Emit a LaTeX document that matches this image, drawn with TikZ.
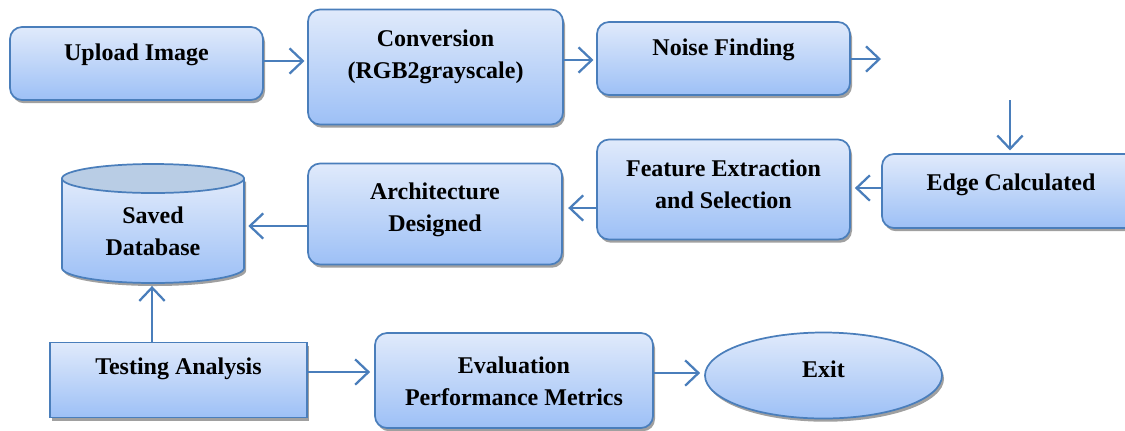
\documentclass[tikz,border=0pt]{standalone}
\usepackage{fontspec}
\setmainfont{Liberation Serif}
\usetikzlibrary{arrows.meta,shapes.geometric,shadows,calc}
\definecolor{bord}{HTML}{4A7EBB}
\definecolor{topc}{HTML}{E0EAFB}
\definecolor{botc}{HTML}{9DC0F6}
\definecolor{capc}{HTML}{B9CDE5}
\definecolor{shad}{HTML}{A0A0A0}
\tikzset{
  shade base/.style={draw=bord, line width=1.3pt, top color=topc, bottom color=botc,
    drop shadow={shadow xshift=1.5pt, shadow yshift=-2.4pt, fill=shad, opacity=1},
    inner sep=0pt},
  rbox/.style={shade base, rounded corners=9pt},
  sbox/.style={shade base},
  ebox/.style={shade base, ellipse},
  txt/.style={font=\fontsize{18}{24}\selectfont\bfseries, align=center, inner sep=0pt},
  arr/.style={draw=bord, line width=1.7pt, -{Straight Barb[length=10pt,width=19pt]}}
}
\begin{document}
\begin{tikzpicture}[x=0.75pt,y=-0.75pt]
\useasboundingbox (0,0) rectangle (1125,430);

% boxes (sizes in px * 0.75)
\node[rbox, minimum width=189.75pt, minimum height=54.75pt] (up) at (136.5,63.5) {};
\node[rbox, minimum width=191.25pt, minimum height=86.25pt] (conv) at (435.5,67) {};
\node[rbox, minimum width=189.75pt, minimum height=54.75pt] (noise) at (723.5,58.5) {};
\node[rbox, minimum width=193.5pt, minimum height=55.5pt] (edge) at (1011,191) {};
\node[rbox, minimum width=189.75pt, minimum height=75pt] (feat) at (723.5,189.5) {};
\node[rbox, minimum width=190.5pt, minimum height=75.75pt] (arch) at (435,214) {};
\node[sbox, minimum width=192.75pt, minimum height=56.25pt] (test) at (178.5,380) {};
\node[rbox, minimum width=208.5pt, minimum height=71.25pt] (eval) at (514,380.5) {};
\node[ebox, minimum width=177.75pt, minimum height=64.5pt] (exit) at (823.5,375.5) {};

% cylinder (drawn directly)
\fill[shad] (64,181.5) -- (64,271) arc[start angle=180, end angle=0, x radius=91, y radius=15] -- (246,181.5) -- cycle;
\path[draw=bord, line width=1.3pt, top color=topc, bottom color=botc]
  (62,178.5) -- (62,268) arc[start angle=180, end angle=0, x radius=91, y radius=15] -- (244,178.5) -- cycle;
\draw[bord, line width=1.3pt, fill=capc] (153,178.5) ellipse [x radius=91, y radius=14.5];
\node[minimum width=136.5pt, minimum height=89.25pt, inner sep=0pt] (db) at (153,223.5) {};

% texts
\node[txt] (upT) at ([yshift=6.5pt]up.center) {Upload Image};
\node[txt] (convT) at ([yshift=7.5pt]conv.center) {Conversion\\(RGB2grayscale)};
\node[txt] (noiseT) at ([yshift=6.5pt]noise.center) {Noise Finding};
\node[txt] (edgeT) at ([yshift=5pt]edge.center) {Edge Calculated};
\node[txt] (featT) at ([yshift=4pt]feat.center) {Feature Extraction\\and Selection};
\node[txt] (archT) at ([yshift=3.5pt]arch.center) {Architecture\\Designed};
\node[txt] (dbT) at (153,231) {Saved\\Database};
\node[txt] (testT) at ([yshift=8.5pt]test.center) {Testing Analysis};
\node[txt] (evalT) at ([yshift=-0.5pt]eval.center) {Evaluation\\Performance Metrics};
\node[txt] (exitT) at ([yshift=5pt]exit.center) {Exit};

% free ends
\coordinate (n1) at (881,59);
\coordinate (d1) at (1010,100);

% connectors
\draw[arr, shorten >=2pt] (up.east |- 0,61) -- (conv.west |- 0,61);
\draw[arr, shorten >=2pt] (conv.east |- 0,60) -- (noise.west |- 0,60);
\draw[arr] (noise.east |- n1) -- (n1);
\draw[arr, shorten >=2pt] (d1) -- (d1 |- edge.north);
\draw[arr, shorten >=3pt] (edge.west |- 0,188) -- (feat.east |- 0,188);
\draw[arr, shorten >=4pt] (feat.west |- 0,208) -- (arch.east |- 0,208);
\draw[arr, shorten >=3pt] (arch.west |- 0,226) -- (db.east |- 0,226);
\draw[arr, shorten >=2pt] (test.north -| 152,0) -- (db.south -| 152,0);
\draw[arr, shorten >=3pt] (test.east |- 0,372) -- (eval.west |- 0,372);
\draw[arr, shorten >=3pt] (eval.east |- 0,373) -- (exit.west |- 0,373);
\end{tikzpicture}
\end{document}
